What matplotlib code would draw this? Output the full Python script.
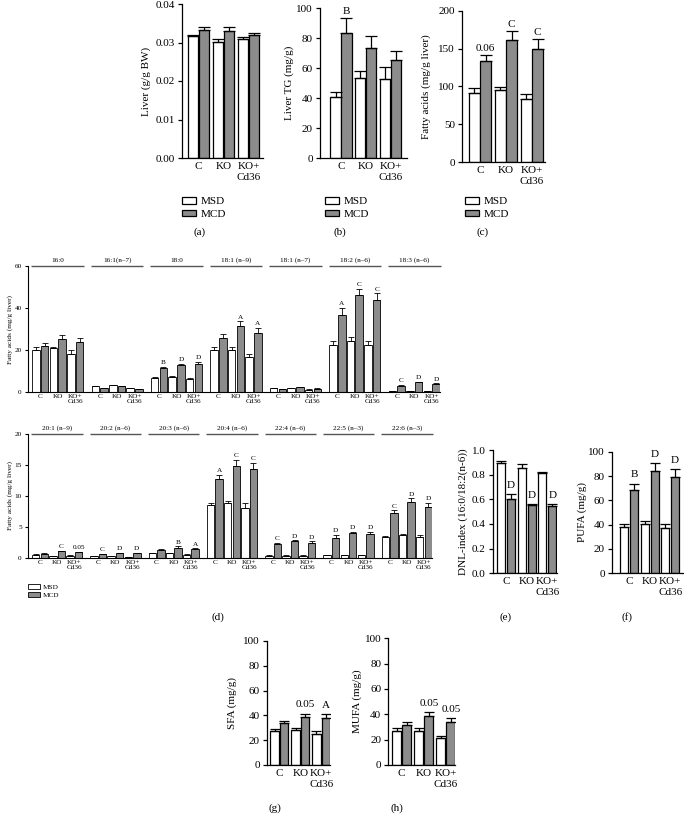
import numpy as np
import matplotlib
matplotlib.use("Agg")
import matplotlib.pyplot as plt

plt.rcParams['font.family'] = ['Liberation Serif', 'DejaVu Serif']

# ---------------- data ----------------
conds = ['C', 'KO', 'KO+\nCd36']
diets = ['MSD', 'MCD']

liver_msd = [0.0316, 0.0301, 0.0310]
liver_msd_err = [0.0004, 0.0009, 0.0003]
liver_mcd = [0.0333, 0.0330, 0.0320]
liver_mcd_err = [0.0008, 0.0009, 0.0005]
liver_marks = ['', '', '']

tg_msd = [40.5, 53.5, 53.0]
tg_msd_err = [3.5, 4.7, 7.5]
tg_mcd = [83.5, 73.5, 65.5]
tg_mcd_err = [9.8, 8.0, 5.7]
tg_marks = ['B', '', '']

fa_msd = [92.0, 95.0, 83.0]
fa_msd_err = [5.5, 4.5, 7.0]
fa_mcd = [133.5, 161.5, 150.0]
fa_mcd_err = [8.0, 12.0, 13.0]
fa_marks = ['0.06', 'C', 'C']

fa1_names = ['16:0', '16:1(n\u20137)', '18:0', '18:1 (n\u20139)', '18:1 (n\u20137)',
             '18:2 (n\u20136)', '18:3 (n\u20136)']
fa1_msd = [[20.2, 20.8, 18.3], [2.7, 3.2, 1.9], [6.8, 7.3, 6.1], [20.0, 20.2, 16.8],
           [1.9, 1.9, 1.1], [22.5, 24.3, 22.5], [0.4, 0.4, 0.4]]
fa1_msd_err = [[1.4, 0.8, 1.5], [0.3, 0.3, 0.2], [0.4, 0.3, 0.5], [1.3, 1.2, 1.1],
               [0.2, 0.2, 0.1], [1.6, 1.8, 2.0], [0.05, 0.05, 0.05]]
fa1_mcd = [[22.0, 25.3, 23.8], [1.9, 2.7, 1.4], [11.5, 13.0, 13.3], [25.7, 31.5, 27.9],
           [1.4, 2.2, 1.6], [36.8, 46.0, 43.6], [3.0, 4.6, 3.8]]
fa1_mcd_err = [[1.3, 1.9, 2.1], [0.2, 0.3, 0.15], [0.4, 0.5, 1.2], [2.0, 2.1, 2.8],
               [0.15, 0.25, 0.2], [3.4, 3.0, 3.4], [0.3, 0.4, 0.4]]
fa1_marks = [['', '', ''], ['', '', ''], ['B', 'D', 'D'], ['', 'A', 'A'],
             ['', '', ''], ['A', 'C', 'C'], ['C', 'D', 'D']]

fa2_names = ['20:1 (n\u20139)', '20:2 (n\u20136)', '20:3 (n\u20136)', '20:4 (n\u20136)',
             '22:4 (n\u20136)', '22:5 (n\u20133)', '22:6 (n\u20133)']
fa2_msd = [[0.55, 0.28, 0.38], [0.25, 0.25, 0.15], [0.8, 0.75, 0.55], [8.6, 8.9, 8.0],
           [0.4, 0.4, 0.4], [0.5, 0.5, 0.5], [3.45, 3.75, 3.4]]
fa2_msd_err = [[0.05, 0.04, 0.04], [0.03, 0.03, 0.02], [0.06, 0.06, 0.06], [0.35, 0.35, 0.8],
               [0.04, 0.04, 0.04], [0.04, 0.05, 0.05], [0.12, 0.12, 0.3]]
fa2_mcd = [[0.72, 1.08, 0.9], [0.65, 0.8, 0.75], [1.35, 1.65, 1.45], [12.8, 14.8, 14.4],
           [2.3, 2.7, 2.4], [3.3, 4.1, 3.8], [7.2, 9.0, 8.3]]
fa2_mcd_err = [[0.06, 0.1, 0.08], [0.05, 0.06, 0.06], [0.1, 0.25, 0.12], [0.6, 1.0, 1.0],
               [0.15, 0.15, 0.3], [0.45, 0.15, 0.45], [0.5, 0.6, 0.6]]
fa2_marks = [['', 'C', '0.05'], ['C', 'D', 'D'], ['', 'B', 'A'], ['A', 'C', 'C'],
             ['C', 'D', 'D'], ['D', 'D', 'D'], ['C', 'D', 'D']]

dnl_msd = [0.892, 0.851, 0.811]
dnl_msd_err = [0.02, 0.033, 0.013]
dnl_mcd = [0.600, 0.554, 0.546]
dnl_mcd_err = [0.043, 0.008, 0.014]
dnl_marks = ['D', 'D', 'D']

pufa_msd = [38.3, 40.5, 37.0]
pufa_msd_err = [2.0, 2.4, 3.5]
pufa_mcd = [68.8, 84.0, 79.5]
pufa_mcd_err = [5.0, 6.5, 6.5]
pufa_marks = ['B', 'D', 'D']

sfa_msd = [27.4, 28.2, 25.0]
sfa_msd_err = [1.6, 1.4, 2.4]
sfa_mcd = [33.6, 38.7, 37.6]
sfa_mcd_err = [1.9, 2.7, 3.7]
sfa_marks = ['', '0.05', 'A']

mufa_msd = [26.8, 26.8, 21.0]
mufa_msd_err = [2.1, 2.1, 1.9]
mufa_mcd = [31.6, 38.9, 33.7]
mufa_mcd_err = [2.6, 3.1, 3.1]
mufa_marks = ['', '0.05', '0.05']

# ---------------- layout helpers ----------------
W, H = 684, 815
fig = plt.figure(figsize=(W / 100, H / 100), dpi=100)
GRAY = '#8c8c8c'


def add_ax(l, t, r, b):
    return fig.add_axes([l / W, 1 - b / H, (r - l) / W, (b - t) / H])


def style(ax, fs, lw=0.9, ticklen=3):
    for s in ['top', 'right']:
        ax.spines[s].set_visible(False)
    for s in ['left', 'bottom']:
        ax.spines[s].set_linewidth(lw)
    ax.tick_params(axis='y', direction='out', length=ticklen, width=lw, labelsize=fs, pad=2)
    ax.tick_params(axis='x', length=0, labelsize=fs, pad=3)


def bars(ax, x, msd, msd_err, mcd, mcd_err, marks, width, off, cap, lw, fs, mark_off=1.5):
    x = np.asarray(x, float)
    msd = np.asarray(msd, float)
    mcd = np.asarray(mcd, float)
    msd_err = np.asarray(msd_err, float)
    mcd_err = np.asarray(mcd_err, float)
    b1 = ax.bar(x - off, msd, width, color='white', edgecolor='black', linewidth=lw, label=diets[0])
    b2 = ax.bar(x + off, mcd, width, color=GRAY, edgecolor='black', linewidth=lw, label=diets[1])
    z = np.zeros_like(msd)
    ax.errorbar(x - off, msd, yerr=[z, msd_err], fmt='none', ecolor='black',
                elinewidth=lw, capsize=cap, capthick=lw)
    ax.errorbar(x + off, mcd, yerr=[z, mcd_err], fmt='none', ecolor='black',
                elinewidth=lw, capsize=cap, capthick=lw)
    for xi, yi, ei, m in zip(x + off, mcd, mcd_err, marks):
        if m:
            ax.annotate(m, (xi, yi + ei), xytext=(0, mark_off), textcoords='offset points',
                        ha='center', va='bottom', fontsize=fs)
    return b1, b2


def set_ylabel_px(ax, text, xpx, fs, l, r):
    ax.set_ylabel(text, fontsize=fs, va='center')
    ax.yaxis.set_label_coords((xpx - l) / (r - l), 0.5)


def legend_at(ax, handles, xpx, ypx, fs, hl=1.3, hh=0.55, sp=0.3):
    ax.legend(handles=list(handles), loc='upper left', bbox_to_anchor=(xpx / W, 1 - ypx / H),
              bbox_transform=fig.transFigure, frameon=False, fontsize=fs, borderpad=0,
              borderaxespad=0, handlelength=hl, handleheight=hh, handletextpad=0.4,
              labelspacing=sp)


FS = 8
FSL = 8
xs = np.arange(3)

# ---------------- panel a ----------------
L, T, R, B = 182, 4, 263, 158
ax = add_ax(L, T, R, B)
style(ax, FS)
ha = bars(ax, xs, liver_msd, liver_msd_err, liver_mcd, liver_mcd_err, liver_marks,
          0.42, 0.22, 4, 0.9, FS)
ax.set_ylim(0, 0.04)
ax.set_yticks([0, 0.01, 0.02, 0.03, 0.04])
ax.set_yticklabels(['0.00', '0.01', '0.02', '0.03', '0.04'])
ax.set_xlim(-0.66, 2.58)
ax.set_xticks(xs)
ax.set_xticklabels(conds)
set_ylabel_px(ax, 'Liver (g/g BW)', 146, FSL, L, R)
legend_at(ax, ha, 182, 197, FS)
fig.text(200 / W, 1 - 232 / H, '(a)', ha='center', va='center', fontsize=FS)

# ---------------- panel b ----------------
L, T, R, B = 320, 8, 407, 158
ax = add_ax(L, T, R, B)
style(ax, FS)
hb = bars(ax, xs, tg_msd, tg_msd_err, tg_mcd, tg_mcd_err, tg_marks, 0.42, 0.22, 4, 0.9, FS)
ax.set_ylim(0, 100)
ax.set_yticks([0, 20, 40, 60, 80, 100])
ax.set_xlim(-0.85, 2.67)
ax.set_xticks(xs)
ax.set_xticklabels(conds)
set_ylabel_px(ax, 'Liver TG (mg/g)', 289, FSL, L, R)
legend_at(ax, hb, 325, 197, FS)
fig.text(340 / W, 1 - 232 / H, '(b)', ha='center', va='center', fontsize=FS)

# ---------------- panel c ----------------
L, T, R, B = 462, 11, 545, 162
ax = add_ax(L, T, R, B)
style(ax, FS)
hc = bars(ax, xs, fa_msd, fa_msd_err, fa_mcd, fa_mcd_err, fa_marks, 0.42, 0.22, 4, 0.9, FS)
ax.set_ylim(0, 200)
ax.set_yticks([0, 50, 100, 150, 200])
ax.set_xlim(-0.69, 2.5)
ax.set_xticks(xs)
ax.set_xticklabels(conds)
set_ylabel_px(ax, 'Fatty acids (mg/g liver)', 426, FSL, L, R)
legend_at(ax, hc, 465, 197, FS)
fig.text(483 / W, 1 - 232 / H, '(c)', ha='center', va='center', fontsize=FS)

# ---------------- panel d ----------------
G = 3.4
FSD = 5.2


def fa_row(L, T, R, B, names, msd, msd_err, mcd, mcd_err, marks, ymax, yticks):
    ax = add_ax(L, T, R, B)
    style(ax, FSD, lw=0.8, ticklen=2.5)
    ax.tick_params(axis='x', pad=1.5)
    n = len(names)
    ticks, labels = [], []
    handles = None
    for g in range(n):
        x = g * G + xs
        h = bars(ax, x, msd[g], msd_err[g], mcd[g], mcd_err[g], marks[g],
                 0.43, 0.25, 2, 0.6, FSD, mark_off=1.2)
        handles = h
        ticks.extend(list(x))
        labels.extend(conds)
        x0, x1 = g * G + 1 - 1.5, g * G + 1 + 1.5
        ax.plot([x0, x1], [ymax, ymax], color='#555555', lw=1.0, clip_on=False,
                solid_capstyle='butt')
        ax.annotate(names[g], ((x0 + x1) / 2, ymax), xytext=(0, 2.5), textcoords='offset points',
                    ha='center', va='bottom', fontsize=FSD, annotation_clip=False)
    ax.set_xticks(ticks)
    ax.set_xticklabels(labels, linespacing=1.0)
    ax.set_ylim(0, ymax)
    ax.set_yticks(yticks)
    ax.set_xlim(-0.7, 6 * G + 2 + 0.47)
    set_ylabel_px(ax, 'Fatty acids (mg/g liver)', 10, FSD, L, R)
    return ax, handles


ax_d1, _ = fa_row(28, 266, 440, 392, fa1_names, fa1_msd, fa1_msd_err, fa1_mcd, fa1_mcd_err,
                  fa1_marks, 60, [0, 20, 40, 60])
ax_d2, hd = fa_row(28, 434, 432, 558, fa2_names, fa2_msd, fa2_msd_err, fa2_mcd, fa2_mcd_err,
                   fa2_marks, 20, [0, 5, 10, 15, 20])
legend_at(ax_d2, hd, 28, 584, FSD, hl=1.6, hh=0.7, sp=0.3)
fig.text(218 / W, 1 - 617 / H, '(d)', ha='center', va='center', fontsize=FS)

# ---------------- panel e ----------------
L, T, R, B = 492.7, 450, 557, 573.3
ax = add_ax(L, T, R, B)
style(ax, FS)
bars(ax, xs, dnl_msd, dnl_msd_err, dnl_mcd, dnl_mcd_err, dnl_marks, 0.39, 0.24, 3.5, 0.9, FS,
     mark_off=3)
ax.set_ylim(0, 1.0)
ax.set_yticks([0, 0.2, 0.4, 0.6, 0.8, 1.0])
ax.set_yticklabels(['0.0', '0.2', '0.4', '0.6', '0.8', '1.0'])
ax.set_xlim(-0.66, 2.47)
ax.set_xticks(xs)
ax.set_xticklabels(conds)
set_ylabel_px(ax, 'DNL-index (16:0/18:2(n-6))', 463, FSL, L, R)
fig.text(506 / W, 1 - 617 / H, '(e)', ha='center', va='center', fontsize=FS)

# ---------------- panel f ----------------
L, T, R, B = 612, 451.7, 690, 573.3
ax = add_ax(L, T, R, B)
style(ax, FS)
bars(ax, xs, pufa_msd, pufa_msd_err, pufa_mcd, pufa_mcd_err, pufa_marks, 0.39, 0.24, 3.5, 0.9,
     FS, mark_off=3)
ax.set_ylim(0, 100)
ax.set_yticks([0, 20, 40, 60, 80, 100])
ax.set_xlim(-0.84, 2.96)
ax.set_xticks(xs)
ax.set_xticklabels(conds)
set_ylabel_px(ax, 'PUFA (mg/g)', 582, FSL, L, R)
fig.text(627 / W, 1 - 617 / H, '(f)', ha='center', va='center', fontsize=FS)

# ---------------- panel g ----------------
L, T, R, B = 266.7, 641, 330, 765
ax = add_ax(L, T, R, B)
style(ax, FS)
bars(ax, xs, sfa_msd, sfa_msd_err, sfa_mcd, sfa_mcd_err, sfa_marks, 0.4, 0.23, 3.5, 0.9, FS,
     mark_off=3)
ax.set_ylim(0, 100)
ax.set_yticks([0, 20, 40, 60, 80, 100])
ax.set_xlim(-0.61, 2.42)
ax.set_xticks(xs)
ax.set_xticklabels(conds)
set_ylabel_px(ax, 'SFA (mg/g)', 232, FSL, L, R)
fig.text(275 / W, 1 - 808 / H, '(g)', ha='center', va='center', fontsize=FS)

# ---------------- panel h ----------------
L, T, R, B = 388.3, 638.3, 455, 765
ax = add_ax(L, T, R, B)
style(ax, FS)
bars(ax, xs, mufa_msd, mufa_msd_err, mufa_mcd, mufa_mcd_err, mufa_marks, 0.4, 0.23, 3.5, 0.9, FS,
     mark_off=3)
ax.set_ylim(0, 100)
ax.set_yticks([0, 20, 40, 60, 80, 100])
ax.set_xlim(-0.61, 2.42)
ax.set_xticks(xs)
ax.set_xticklabels(conds)
set_ylabel_px(ax, 'MUFA (mg/g)', 357, FSL, L, R)
fig.text(397 / W, 1 - 808 / H, '(h)', ha='center', va='center', fontsize=FS)

fig.savefig('out.png', dpi=100, facecolor='white')
